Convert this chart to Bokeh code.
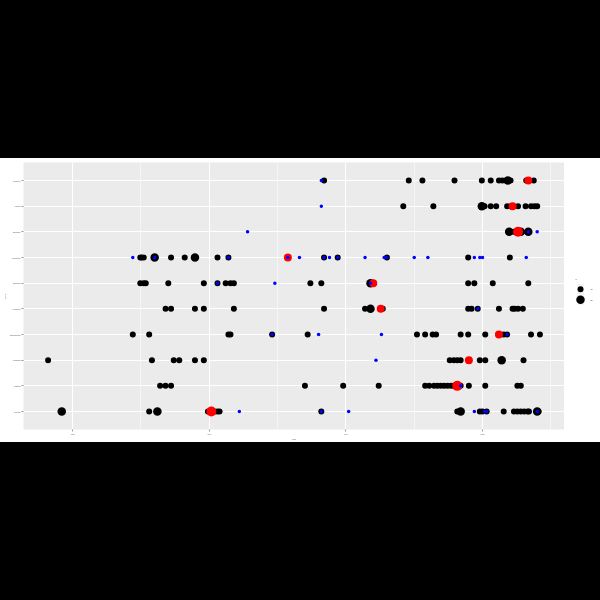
from bokeh.plotting import figure
from bokeh.models import FactorRange, Range1d, FixedTicker, Div
from bokeh.layouts import column, row
from bokeh.core.properties import value
from bokeh.embed import file_html
from bokeh.resources import INLINE

# categories, bottom to top
categories = ["Defense", "Logistics", "Industrials", "Entertainment", "Healthcare",
              "Consumer", "Technology", "Education", "Finance", "Agriculture"]

x_ticks = [1950, 1970, 1990, 2010]
x_minor = [1960, 1980, 2000, 2020]
size_labels = ["10", "20"]
size_values = [1, 2]

# black points per category (same order as categories)
black_x = [
    [1948.4, 1961.2, 1962.4, 1969.8, 1970.3, 1970.8, 1971.2, 1971.5, 1986.4, 2006.3, 2006.8, 2009.6,
     2010.0, 2010.6, 2013.1, 2014.6, 2015.1, 2015.6, 2016.1, 2016.6, 2016.8, 2018.0, 2018.2],
    [1962.8, 1963.6, 1964.4, 1984.0, 1989.6, 1994.8, 2001.6, 2002.2, 2002.9, 2003.4, 2003.9, 2004.4,
     2004.9, 2005.4, 2005.8, 2006.8, 2008.0, 2010.4, 2015.1, 2015.6],
    [1946.4, 1961.6, 1964.8, 1965.6, 1967.9, 1969.2, 2005.2, 2005.8, 2006.3, 2006.8, 2009.6, 2010.4,
     2012.8, 2016.0],
    [1958.8, 1961.2, 1972.8, 1973.1, 1979.2, 1984.4, 2000.4, 2001.6, 2002.7, 2003.2, 2006.8, 2007.9,
     2010.4, 2013.1, 2013.6, 2017.1, 2018.4],
    [1963.6, 1964.4, 1967.9, 1969.2, 1973.6, 1986.8, 1992.8, 1993.6, 1995.4, 2007.9, 2008.4, 2009.3,
     2012.4, 2014.4, 2014.7, 2015.2, 2015.9],
    [1959.9, 1960.4, 1960.7, 1964.0, 1969.2, 1971.2, 1972.4, 1973.1, 1973.6, 1984.8, 1986.4, 1993.6,
     2007.9, 2008.8, 2011.5, 2016.7],
    [1959.9, 1960.1, 1960.4, 1962.0, 1964.4, 1966.4, 1967.9, 1971.2, 1972.8, 1986.8, 1988.8, 1996.0,
     2007.9, 2014.0],
    [2013.9, 2014.1, 2014.6, 2014.8, 2015.6, 2016.7],
    [1998.4, 2002.8, 2009.9, 2010.3, 2011.2, 2012.0, 2013.6, 2014.1, 2015.2, 2016.3, 2017.1, 2017.6, 2018.0],
    [1986.8, 1999.2, 2001.2, 2005.9, 2009.9, 2011.2, 2012.4, 2012.9, 2013.4, 2013.7, 2014.1, 2016.4, 2017.5],
]
black_n = [
    [2, 1, 2, 1, 1, 1, 1, 1, 1, 1, 2, 1, 1, 1, 1, 1, 1, 1, 1, 1, 1, 2, 1],
    [1, 1, 1, 1, 1, 1, 1, 1, 1, 1, 1, 1, 1, 1, 1, 1, 1, 1, 1, 1],
    [1, 1, 1, 1, 1, 1, 1, 1, 1, 1, 1, 1, 2, 1],
    [1, 1, 1, 1, 1, 1, 1, 1, 1, 1, 1, 1, 1, 1, 1, 1, 1],
    [1, 1, 1, 1, 1, 1, 1, 2, 1, 1, 1, 1, 1, 1, 1, 1, 1],
    [1, 1, 1, 1, 1, 1, 1, 1, 1, 1, 1, 2, 1, 1, 1, 1],
    [1, 1, 1, 2, 1, 1, 2, 1, 1, 1, 1, 1, 1, 1],
    [2, 1, 1, 1, 2, 2],
    [1, 1, 2, 1, 1, 1, 1, 1, 1, 1, 1, 1, 1],
    [1, 1, 1, 1, 1, 1, 1, 1, 1, 2, 1, 1, 1],
]

# red points
red_cat = ["Defense", "Logistics", "Industrials", "Entertainment", "Healthcare",
           "Consumer", "Technology", "Education", "Finance", "Agriculture"]
red_x = [1970.3, 2006.3, 2008.0, 2012.4, 1995.1, 1994.0, 1981.5, 2015.2, 2014.4, 2016.7]
red_n = [2, 2, 1, 1, 1, 1, 1, 2, 1, 1]

# blue points per category
blue_x = [
    [1974.4, 1986.4, 1990.4, 2008.8, 2010.3, 2010.6, 2018.0],
    [2006.8],
    [1994.4],
    [1979.2, 1986.0, 1995.2, 2013.6],
    [2009.3],
    [1971.2, 1979.6, 1993.6],
    [1958.8, 1962.0, 1972.8, 1981.5, 1983.2, 1986.8, 1987.6, 1988.8, 1992.8, 1995.6, 1996.0, 2000.0,
     2002.0, 2008.8, 2009.6, 2010.0, 2016.4],
    [1975.6, 2016.7, 2018.0],
    [1986.4],
    [1986.4],
]

FONT = "Liberation Sans"
H = 284

p = figure(width=564, height=H, output_backend="svg", toolbar_location=None,
           x_range=Range1d(1942.8, 2022.0),
           y_range=FactorRange(factors=categories, range_padding=0.2, range_padding_units="absolute"),
           min_border_left=0, min_border_top=4, min_border_bottom=0, min_border_right=0,
           background_fill_color="#EBEBEB", border_fill_color="white", outline_line_color=None,
           margin=0)

# grid
p.xaxis.ticker = FixedTicker(ticks=x_ticks, minor_ticks=x_minor)
p.xgrid.grid_line_color = "white"
p.xgrid.grid_line_width = 1
p.xgrid.minor_grid_line_color = "white"
p.xgrid.minor_grid_line_width = 0.5
p.ygrid.grid_line_color = "white"
p.ygrid.grid_line_width = 1

for ax in (p.xaxis[0], p.yaxis[0]):
    ax.axis_line_color = None
    ax.major_tick_line_color = "#333333"
    ax.major_tick_line_width = 0.5
    ax.major_tick_in = 0
    ax.major_tick_out = 2
    ax.minor_tick_line_color = None
    ax.major_label_text_font = FONT
    ax.major_label_text_font_size = "1.7px"
    ax.major_label_text_color = "#4D4D4D"
    ax.major_label_standoff = 1
    ax.axis_label_text_font = FONT
    ax.axis_label_text_font_size = "2.1px"
    ax.axis_label_text_font_style = "normal"
    ax.axis_label_standoff = 1
p.xaxis.axis_label_standoff = 0
p.xaxis.major_label_standoff = 0
p.xaxis.axis_label = "year"
p.yaxis.axis_label = "sector"

# black points split by size
sizes_black = {1: 6, 2: 8.5}
for n_val in size_values:
    xs, ys = [], []
    for cat, xl, nl in zip(categories, black_x, black_n):
        for xv, nv in zip(xl, nl):
            if nv == n_val:
                xs.append(xv)
                ys.append(cat)
    p.scatter(xs, ys, size=sizes_black[n_val], fill_color="black", line_color="black", line_width=0)

# red points
sizes_red = {1: 8, 2: 10}
for n_val in size_values:
    xs = [xv for xv, nv in zip(red_x, red_n) if nv == n_val]
    ys = [c for c, nv in zip(red_cat, red_n) if nv == n_val]
    p.scatter(xs, ys, size=sizes_red[n_val], fill_color="red", line_color="red", line_width=0)

# blue points
bx, by = [], []
for cat, xl in zip(categories, blue_x):
    for xv in xl:
        bx.append(xv)
        by.append(cat)
p.scatter(bx, by, size=3.5, fill_color="blue", line_color="blue", line_width=0)

# legend panel (separate small figure, pixel coordinates, y down)
LW = 36
lg = figure(width=LW, height=H, output_backend="svg", toolbar_location=None,
            x_range=Range1d(0, LW), y_range=Range1d(H, 0),
            min_border=0, outline_line_color=None, background_fill_color="white",
            border_fill_color="white", margin=0)
lg.axis.visible = False
lg.grid.visible = False
key_y = [134.7, 146.0]
lg.rect(x=[16, 16], y=key_y, width=7, height=11, fill_color="#F2F2F2", line_color=None)
lg.scatter(x=[16, 16], y=key_y, size=[sizes_black[v] for v in size_values],
           fill_color="black", line_color="black", line_width=0)
lg.text(x=[11], y=[124.5], text=["n"], text_font=value(FONT), text_font_size="2.1px",
        text_baseline="middle", text_color="black")
lg.text(x=[26] * 2, y=key_y, text=size_labels, text_font=value(FONT), text_font_size="1.7px",
        text_baseline="middle", text_color="black")

top = Div(width=600, height=158, styles={"background-color": "black"}, margin=0)
bottom = Div(width=600, height=158, styles={"background-color": "black"}, margin=0)
layout = column(top, row(p, lg, spacing=0, margin=0), bottom, spacing=0, margin=0)

open("out.html", "w").write(file_html(layout, INLINE))
